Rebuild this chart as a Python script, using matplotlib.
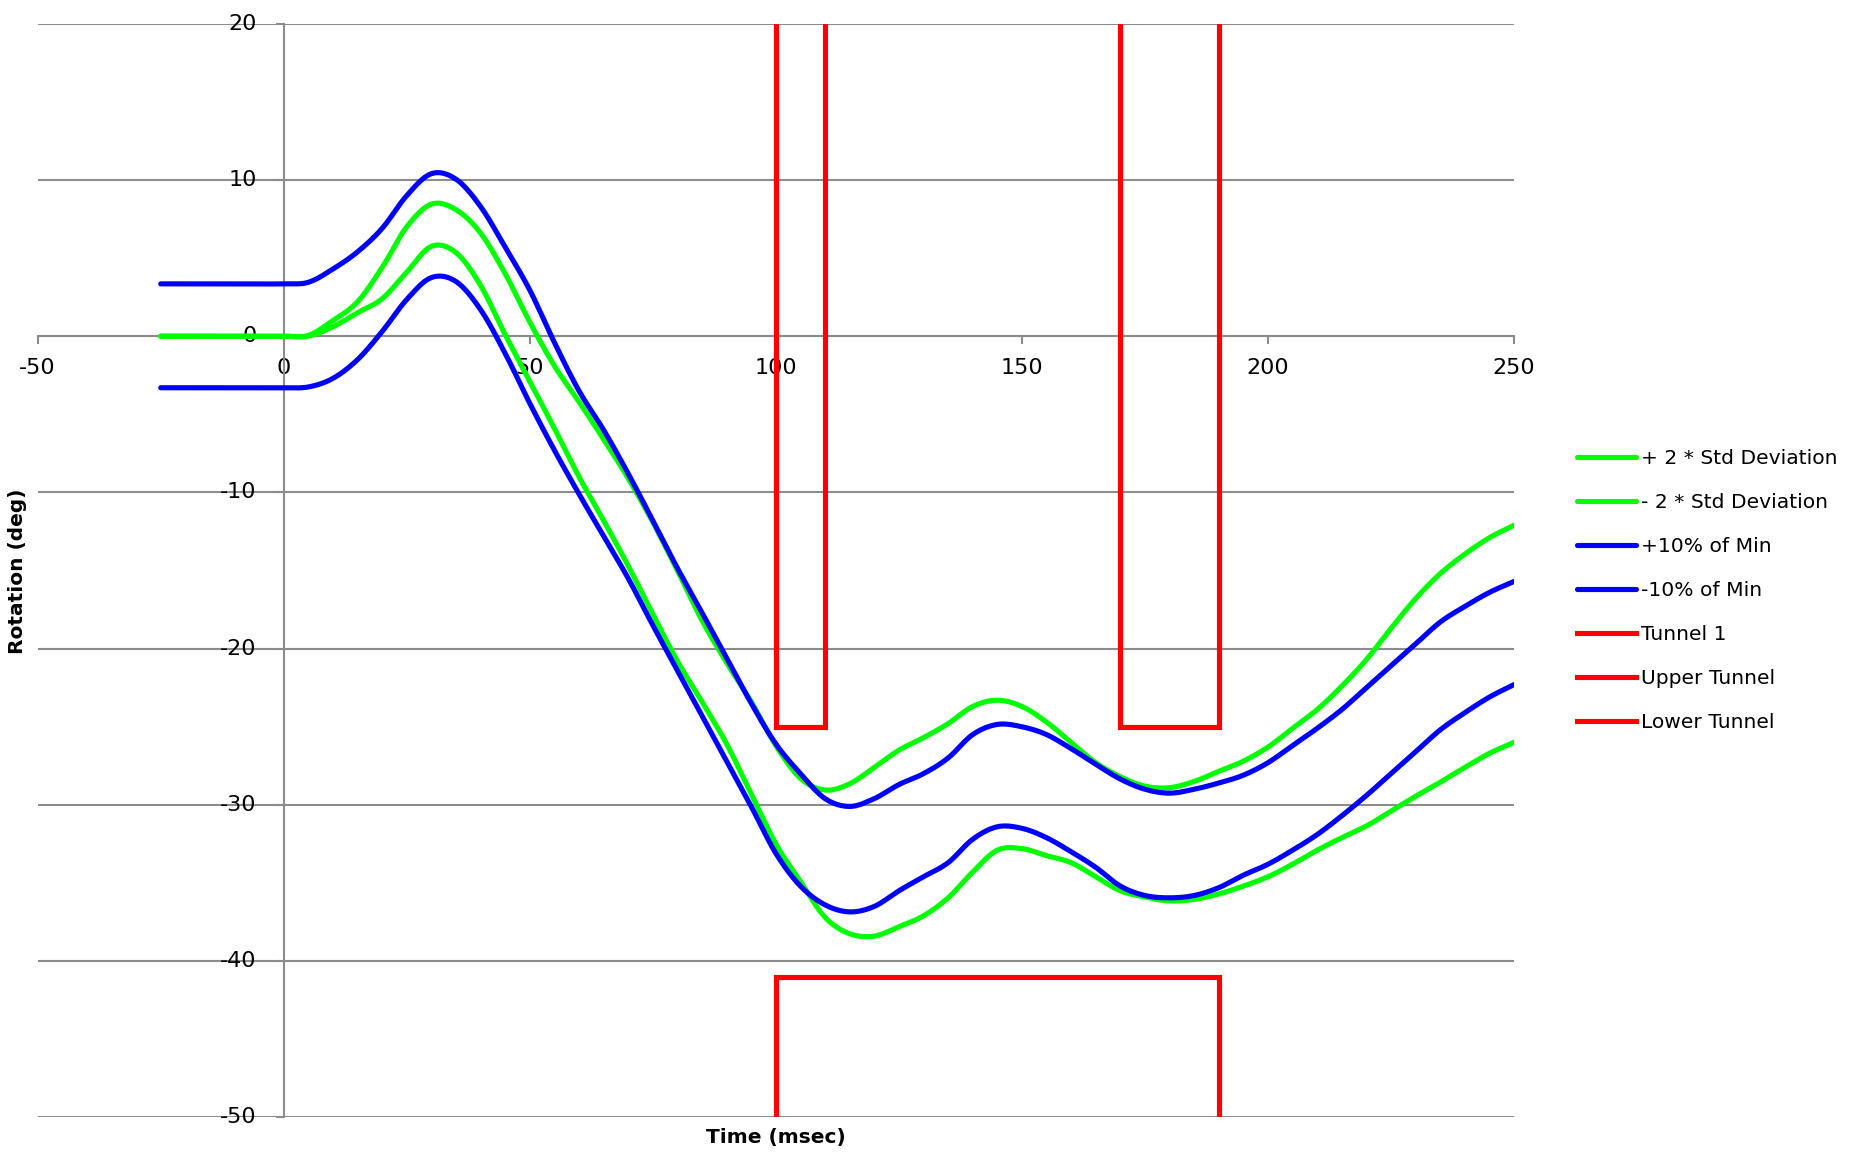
import numpy as np
import matplotlib
matplotlib.use("Agg")
import matplotlib.pyplot as plt

plt.rcParams["axes.unicode_minus"] = False

# Time axis (msec) shared by the four band curves
time_ms = [-25, -20, -15, -10, -5, 0, 5, 10, 15, 20, 25, 30, 35, 40, 45, 50,
           55, 60, 65, 70, 75, 80, 85, 90, 95, 100, 105, 110, 115, 120, 125,
           130, 135, 140, 145, 150, 155, 160, 165, 170, 175, 180, 185, 190,
           195, 200, 205, 210, 215, 220, 225, 230, 235, 240, 245, 250]

plus_2std = [0, 0, 0, 0, 0, 0, 0.05, 1.0, 2.2, 4.4, 7.0, 8.45, 8.1, 6.6, 4.0, 0.9,
             -1.9, -4.2, -6.6, -9.1, -11.9, -15.0, -18.2, -20.9, -23.4, -26.2,
             -28.3, -29.05, -28.65, -27.6, -26.5, -25.7, -24.8, -23.7, -23.3,
             -23.7, -24.7, -26.0, -27.3, -28.2, -28.8, -28.9, -28.5, -27.85,
             -27.2, -26.3, -25.1, -23.9, -22.4, -20.7, -18.7, -16.8, -15.2,
             -13.95, -12.9, -12.1]

minus_2std = [0, 0, 0, 0, 0, 0, 0, 0.6, 1.5, 2.4, 4.1, 5.75, 5.35, 3.25, 0.1, -2.9,
              -5.9, -9.0, -11.8, -14.7, -17.8, -20.8, -23.4, -26.1, -29.3,
              -32.5, -34.9, -37.2, -38.25, -38.4, -37.8, -37.1, -35.95, -34.3,
              -32.9, -32.8, -33.25, -33.7, -34.6, -35.5, -35.9, -36.15, -36.05,
              -35.7, -35.2, -34.6, -33.8, -32.9, -32.1, -31.35, -30.4, -29.45,
              -28.55, -27.6, -26.7, -26.0]

plus_10pct = [3.35, 3.35, 3.35, 3.35, 3.35, 3.35, 3.45, 4.3, 5.4, 6.9, 9.0, 10.4,
              10.05, 8.3, 5.7, 2.95, -0.4, -3.5, -6.0, -8.8, -11.8, -14.85,
              -17.7, -20.6, -23.5, -26.1, -28.0, -29.6, -30.1, -29.6, -28.7,
              -28.0, -27.0, -25.5, -24.85, -25.0, -25.5, -26.4, -27.4, -28.35,
              -29.0, -29.25, -29.0, -28.6, -28.1, -27.3, -26.2, -25.1, -23.9,
              -22.5, -21.1, -19.7, -18.3, -17.3, -16.4, -15.7]

minus_10pct = [-3.3, -3.3, -3.3, -3.3, -3.3, -3.3, -3.25, -2.7, -1.5, 0.3, 2.35,
               3.75, 3.5, 1.7, -1.1, -4.3, -7.3, -10.1, -12.8, -15.5, -18.5,
               -21.4, -24.3, -27.2, -30.1, -33.1, -35.2, -36.4, -36.85, -36.5,
               -35.5, -34.6, -33.7, -32.2, -31.4, -31.5, -32.1, -33.0, -34.0,
               -35.2, -35.8, -35.95, -35.8, -35.3, -34.5, -33.8, -32.9, -31.9,
               -30.7, -29.4, -28.0, -26.6, -25.2, -24.1, -23.1, -22.3]

# Corridor outlines
tunnel1_t = [100, 100, 110, 110]
tunnel1_y = [20, -25, -25, 20]
upper_tunnel_t = [170, 170, 190, 190]
upper_tunnel_y = [20, -25, -25, 20]
lower_tunnel_t = [100, 100, 190, 190]
lower_tunnel_y = [-50, -41, -41, -50]

x_ticks = [-50, 0, 50, 100, 150, 200, 250]
y_ticks = [-50, -40, -30, -20, -10, 0, 10, 20]


def smooth_path(x, y, steps=12):
    """Catmull-Rom spline through the points, like a smoothed line chart."""
    x = np.asarray(x, float)
    y = np.asarray(y, float)
    px = np.concatenate([[x[0]], x, [x[-1]]])
    py = np.concatenate([[y[0]], y, [y[-1]]])
    xs, ys = [], []
    s = np.linspace(0, 1, steps, endpoint=False)
    for i in range(1, len(px) - 2):
        p0, p1, p2, p3 = (np.array([px[j], py[j]]) for j in range(i - 1, i + 3))
        for u in s:
            pt = 0.5 * ((2 * p1) + (-p0 + p2) * u
                        + (2 * p0 - 5 * p1 + 4 * p2 - p3) * u ** 2
                        + (-p0 + 3 * p1 - 3 * p2 + p3) * u ** 3)
            xs.append(pt[0])
            ys.append(pt[1])
    xs.append(x[-1])
    ys.append(y[-1])
    return np.array(xs), np.array(ys)


GREEN = "#00FF00"
BLUE = "#0000FF"
RED = "#FF0000"
GRID = "#8C8C8C"
LW = 3.7

fig = plt.figure(figsize=(18.55, 11.52), dpi=100)
ax = fig.add_axes([0.0203, 0.0301, 0.7959, 0.9493])

series = [
    (plus_2std, GREEN, "+ 2 * Std Deviation"),
    (minus_2std, GREEN, "- 2 * Std Deviation"),
    (plus_10pct, BLUE, "+10% of Min"),
    (minus_10pct, BLUE, "-10% of Min"),
]
for vals, col, lab in series:
    sx, sy = smooth_path(time_ms, vals)
    ax.plot(sx, sy, color=col, lw=LW, label=lab, solid_capstyle="round",
            solid_joinstyle="round", zorder=3)

for tx, ty, lab in [(tunnel1_t, tunnel1_y, "Tunnel 1"),
                    (upper_tunnel_t, upper_tunnel_y, "Upper Tunnel"),
                    (lower_tunnel_t, lower_tunnel_y, "Lower Tunnel")]:
    ax.plot(tx, ty, color=RED, lw=LW, label=lab, solid_joinstyle="miter",
            zorder=3)

ax.set_xlim(-50, 250)
ax.set_ylim(-50, 20)
ax.set_xticks(x_ticks)
ax.set_yticks(y_ticks)

ax.grid(axis="y", color=GRID, lw=1.5, zorder=1)
ax.grid(axis="x", visible=False)
ax.set_axisbelow(True)

for side in ("top", "right"):
    ax.spines[side].set_visible(False)
ax.spines["left"].set_position(("data", 0))
ax.spines["bottom"].set_position(("data", 0))
for side in ("left", "bottom"):
    ax.spines[side].set_color(GRID)
    ax.spines[side].set_linewidth(1.5)
    ax.spines[side].set_zorder(1)

ax.tick_params(axis="x", direction="out", length=6, width=1.5, color=GRID,
               pad=9.5, labelsize=16)
ax.tick_params(axis="y", direction="out", length=6, width=1.5, color=GRID,
               pad=13.5, labelsize=16)
for lbl in ax.get_yticklabels():
    lbl.set_verticalalignment("center")

fig.text(776 / 1855, 1 - 1137 / 1152, "Time (msec)", ha="center",
         va="center", fontsize=14.5, fontweight="bold", family="DejaVu Sans")
fig.text(18 / 1855, 1 - 571 / 1152, "Rotation (deg)", ha="center",
         va="center", rotation=90, fontsize=14.5, fontweight="bold",
         family="DejaVu Sans")

leg = ax.legend(loc="upper left", bbox_to_anchor=(1577 / 1855, 1 - 449 / 1152),
                bbox_transform=fig.transFigure, frameon=False, borderpad=0,
                borderaxespad=0, handlelength=2.9, handletextpad=0.26,
                labelspacing=1.23, prop={"family": "DejaVu Sans", "size": 14.6})

fig.savefig("out.png", dpi=100)
